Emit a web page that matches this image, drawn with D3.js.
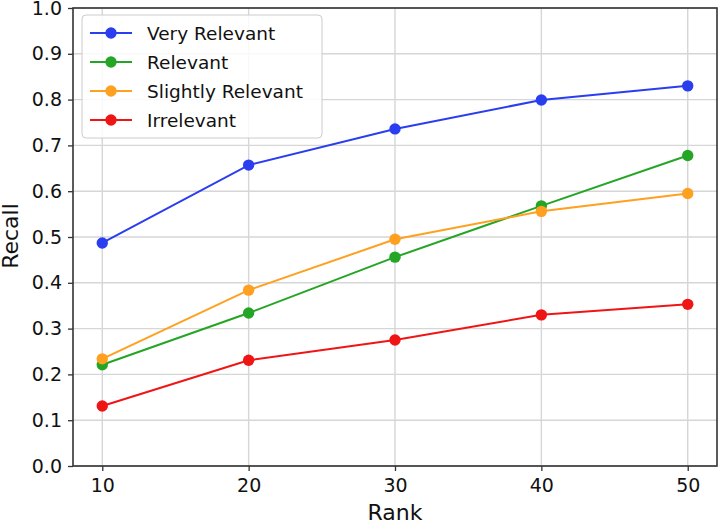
<!DOCTYPE html>
<html>
<head>
<meta charset="utf-8">
<script src="https://cdn.jsdelivr.net/npm/d3@7"></script>
<style>
  body { margin: 0; background: #fff; }
  text { font-family: "DejaVu Sans", sans-serif; fill: #111; }
</style>
</head>
<body>
<div id="chart"></div>
<script>
// data
var ranks = [10, 20, 30, 40, 50];
var seriesNames = ["Very Relevant", "Relevant", "Slightly Relevant", "Irrelevant"];
var veryRelevant = [0.487, 0.657, 0.736, 0.799, 0.830];
var relevant = [0.221, 0.334, 0.456, 0.568, 0.678];
var slightlyRelevant = [0.234, 0.384, 0.495, 0.556, 0.595];
var irrelevant = [0.131, 0.231, 0.275, 0.330, 0.353];
var xTicks = [10, 20, 30, 40, 50];
var yTicks = [0, 0.1, 0.2, 0.3, 0.4, 0.5, 0.6, 0.7, 0.8, 0.9, 1.0];

var colors = ["#2a3ef0", "#25a525", "#ffa020", "#f01515"];
var allSeries = [veryRelevant, relevant, slightlyRelevant, irrelevant];

var margin = {top: 8, right: 3, bottom: 57, left: 73},
    width = 720 - margin.left - margin.right,
    height = 523 - margin.top - margin.bottom;

var svg = d3.select("#chart")
    .append("svg")
    .attr("width", 720)
    .attr("height", 523)
    .append("g")
    .attr("transform", "translate(" + margin.left + "," + margin.top + ")");

var x = d3.scaleLinear().domain([8, 52]).range([0, width]);
var y = d3.scaleLinear().domain([0, 1]).range([height, 0]);

// grid
svg.append("g")
    .selectAll("line.vg")
    .data(xTicks)
    .enter().append("line")
    .attr("x1", d => x(d)).attr("x2", d => x(d))
    .attr("y1", 0).attr("y2", height)
    .attr("stroke", "#d6d6d6").attr("stroke-width", 1.4);
svg.append("g")
    .selectAll("line.hg")
    .data(yTicks)
    .enter().append("line")
    .attr("x1", 0).attr("x2", width)
    .attr("y1", d => y(d)).attr("y2", d => y(d))
    .attr("stroke", "#d6d6d6").attr("stroke-width", 1.4);

// axes
var xAxis = svg.append("g")
    .attr("transform", "translate(0," + height + ")")
    .call(d3.axisBottom(x).tickValues(xTicks).tickSize(5).tickPadding(8).tickSizeOuter(0));
var yAxis = svg.append("g")
    .call(d3.axisLeft(y).tickValues(yTicks).tickFormat(d3.format(".1f")).tickSize(5).tickPadding(6).tickSizeOuter(0));
[xAxis, yAxis].forEach(function (a) {
    a.selectAll("text").style("font-size", "19px").attr("fill", "#111");
    a.selectAll("line").attr("stroke", "#333").attr("stroke-width", 1.3);
    a.select(".domain").remove();
});

// frame
svg.append("rect")
    .attr("width", width).attr("height", height)
    .attr("fill", "none").attr("stroke", "#333").attr("stroke-width", 1.6);

// lines and markers
var line = d3.line()
    .x((d, i) => x(ranks[i]))
    .y(d => y(d));

allSeries.forEach(function (s, k) {
    svg.append("path")
        .datum(s)
        .attr("d", line)
        .attr("fill", "none")
        .attr("stroke", colors[k])
        .attr("stroke-width", 2);
    svg.append("g")
        .selectAll("circle")
        .data(s)
        .enter().append("circle")
        .attr("cx", (d, i) => x(ranks[i]))
        .attr("cy", d => y(d))
        .attr("r", 5.7)
        .attr("fill", colors[k]);
});

// axis labels
svg.append("text")
    .attr("x", width / 2)
    .attr("y", height + 54)
    .attr("text-anchor", "middle")
    .style("font-size", "22px")
    .text("Rank");
svg.append("text")
    .attr("transform", "rotate(-90)")
    .attr("x", -height / 2 + 1)
    .attr("y", -55)
    .attr("text-anchor", "middle")
    .style("font-size", "22px")
    .text("Recall");

// legend
var legend = svg.append("g").attr("transform", "translate(9,7)");
legend.append("rect")
    .attr("width", 240).attr("height", 123)
    .attr("rx", 4)
    .attr("fill", "#fff").attr("fill-opacity", 0.85)
    .attr("stroke", "#ccc");
seriesNames.forEach(function (name, k) {
    var ly = 18 + k * 29;
    legend.append("line")
        .attr("x1", 8).attr("x2", 50)
        .attr("y1", ly).attr("y2", ly)
        .attr("stroke", colors[k]).attr("stroke-width", 2);
    legend.append("circle")
        .attr("cx", 29).attr("cy", ly).attr("r", 5.7)
        .attr("fill", colors[k]);
    legend.append("text")
        .attr("x", 65).attr("y", ly + 7)
        .style("font-size", "18.5px")
        .text(name);
});
</script>
</body>
</html>
